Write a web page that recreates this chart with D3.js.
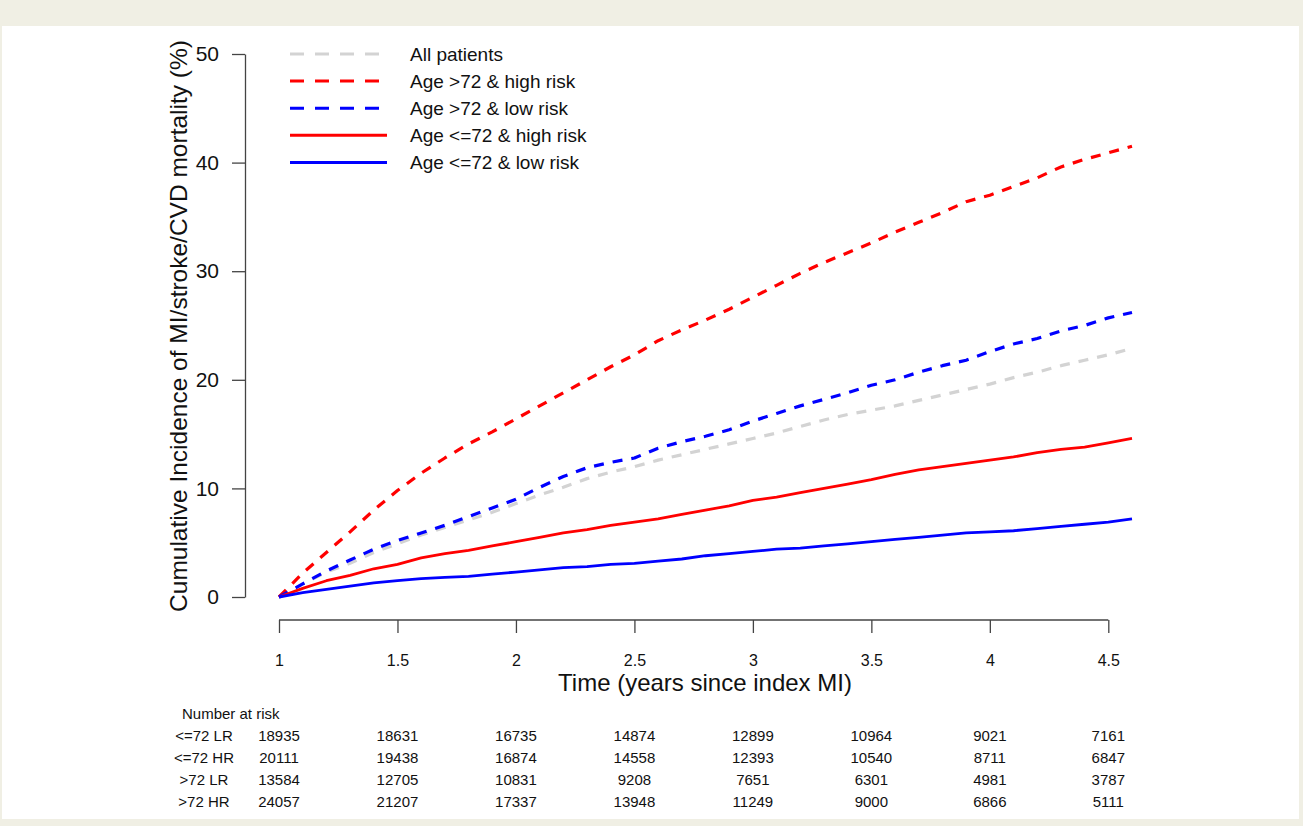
<!DOCTYPE html>
<html>
<head>
<meta charset="utf-8">
<script src="https://cdn.jsdelivr.net/npm/d3@7"></script>
<style>
  html, body { margin: 0; padding: 0; background: #f0efe4; }
  svg { display: block; }
  text { font-family: "Liberation Sans", Arial, sans-serif; fill: #111; }
</style>
</head>
<body>
<svg id="chart" width="1303" height="826"></svg>
<script>
// ---------- data ----------
const times = [1.0,1.1,1.2,1.3,1.4,1.5,1.6,1.7,1.8,1.9,2.0,2.1,2.2,2.3,2.4,2.5,2.6,2.7,2.8,2.9,3.0,3.1,3.2,3.3,3.4,3.5,3.6,3.7,3.8,3.9,4.0,4.1,4.2,4.3,4.4,4.5,4.6];

const allPatients   = [0,1.2,2.3,3.1,4.1,4.9,5.7,6.4,7.1,7.8,8.6,9.4,10.1,10.9,11.5,12.0,12.6,13.1,13.6,14.1,14.6,15.1,15.7,16.3,16.8,17.2,17.6,18.1,18.6,19.1,19.6,20.2,20.7,21.3,21.8,22.3,22.9];
const oldHighRisk   = [0,2.2,4.1,6.0,8.0,9.8,11.4,12.8,14.1,15.2,16.4,17.6,18.8,20.0,21.2,22.3,23.6,24.6,25.5,26.5,27.6,28.7,29.8,30.8,31.7,32.6,33.6,34.5,35.4,36.4,37.0,37.8,38.6,39.6,40.3,40.9,41.5];
const oldLowRisk    = [0,1.2,2.4,3.4,4.4,5.2,5.9,6.6,7.4,8.2,9.0,10.1,11.1,11.9,12.4,12.8,13.7,14.3,14.8,15.4,16.2,16.9,17.6,18.2,18.8,19.5,20.0,20.7,21.3,21.8,22.6,23.3,23.8,24.5,25.0,25.7,26.2];
const youngHighRisk = [0,0.8,1.5,2.0,2.6,3.0,3.6,4.0,4.3,4.7,5.1,5.5,5.9,6.2,6.6,6.9,7.2,7.6,8.0,8.4,8.9,9.2,9.6,10.0,10.4,10.8,11.3,11.7,12.0,12.3,12.6,12.9,13.3,13.6,13.8,14.2,14.6];
const youngLowRisk  = [0,0.4,0.7,1.0,1.3,1.5,1.7,1.8,1.9,2.1,2.3,2.5,2.7,2.8,3.0,3.1,3.3,3.5,3.8,4.0,4.2,4.4,4.5,4.7,4.9,5.1,5.3,5.5,5.7,5.9,6.0,6.1,6.3,6.5,6.7,6.9,7.2];

const seriesNames  = ["All patients","Age >72 & high risk","Age >72 & low risk","Age <=72 & high risk","Age <=72 & low risk"];
const seriesValues = [allPatients, oldHighRisk, oldLowRisk, youngHighRisk, youngLowRisk];
const seriesColors = ["#d3d3d3","#ff0000","#0000ff","#ff0000","#0000ff"];
const seriesDashed = [true, true, true, false, false];

const xTicks = [1,1.5,2,2.5,3,3.5,4,4.5];
const yTicks = [0,10,20,30,40,50];

const riskTimes  = [1,1.5,2,2.5,3,3.5,4,4.5];
const riskLabels = ["<=72 LR","<=72 HR",">72 LR",">72 HR"];
const riskLR72   = [18935,18631,16735,14874,12899,10964,9021,7161];
const riskHR72   = [20111,19438,16874,14558,12393,10540,8711,6847];
const riskLRold  = [13584,12705,10831,9208,7651,6301,4981,3787];
const riskHRold  = [24057,21207,17337,13948,11249,9000,6866,5111];
const riskRows   = [riskLR72, riskHR72, riskLRold, riskHRold];

// ---------- drawing ----------
const svg = d3.select("#chart");

svg.append("rect").attr("x",2).attr("y",26).attr("width",1297).attr("height",793).attr("fill","#ffffff");

const x = d3.scaleLinear().domain([1, 4.6]).range([279, 1132]);
const y = d3.scaleLinear().domain([0, 50]).range([597, 54]);

const axisColor = "#444";

// Y axis
const gy = svg.append("g").attr("transform","translate(245,0)")
  .call(d3.axisLeft(y).tickValues(yTicks).tickFormat(d3.format("d")).tickSize(13).tickSizeOuter(0).tickPadding(13));
gy.selectAll("path, line").attr("stroke", axisColor).attr("stroke-width",1.3);
gy.selectAll("text").attr("font-size","21px").attr("font-family","Liberation Sans, Arial, sans-serif").attr("fill","#111");

// X axis (R style: line spans first to last tick)
const gx = svg.append("g").attr("transform","translate(0,620)")
  .call(d3.axisBottom(x).tickValues(xTicks).tickFormat(d3.format("")).tickSize(13).tickSizeOuter(0).tickPadding(22));
gx.select(".domain").remove();
gx.append("line").attr("x1", x(xTicks[0])).attr("x2", x(xTicks[xTicks.length-1]))
  .attr("y1",0).attr("y2",0).attr("stroke",axisColor).attr("stroke-width",1.3);
gx.selectAll("line").attr("stroke", axisColor).attr("stroke-width",1.3);
gx.selectAll("text").attr("font-size","16px").attr("font-family","Liberation Sans, Arial, sans-serif").attr("fill","#111");

// Axis titles
svg.append("text")
  .attr("transform","translate(187,326) rotate(-90)")
  .attr("text-anchor","middle")
  .attr("font-size","24.5px")
  .text("Cumulative Incidence of MI/stroke/CVD mortality (%)");

svg.append("text")
  .attr("x",705).attr("y",691)
  .attr("text-anchor","middle")
  .attr("font-size","24px")
  .text("Time (years since index MI)");

// Curves
const line = d3.line().x((d,i) => x(times[i])).y(d => y(d));
seriesValues.forEach((vals, k) => {
  svg.append("path")
    .datum(vals)
    .attr("d", line)
    .attr("fill","none")
    .attr("stroke", seriesColors[k])
    .attr("stroke-width", seriesDashed[k] ? 3.2 : 2.8)
    .attr("stroke-dasharray", seriesDashed[k] ? "10,9" : null)
    .attr("stroke-linejoin","round");
});

// Legend
const legend = svg.append("g");
seriesNames.forEach((name, k) => {
  const ly = 54 + k * 27.1;
  legend.append("line")
    .attr("x1",290).attr("x2",387).attr("y1",ly).attr("y2",ly)
    .attr("stroke", seriesColors[k])
    .attr("stroke-width", 3)
    .attr("stroke-dasharray", seriesDashed[k] ? "14,11" : null);
  legend.append("text")
    .attr("x",410).attr("y",ly).attr("dy","0.36em")
    .attr("font-size","19px")
    .text(name);
});

// Number at risk table
svg.append("text").attr("x",182).attr("y",719).attr("font-size","15px").text("Number at risk");
riskRows.forEach((row, r) => {
  const ry = 741 + r * 22;
  svg.append("text").attr("x",204).attr("y",ry).attr("text-anchor","middle").attr("font-size","15px").text(riskLabels[r]);
  row.forEach((n, j) => {
    svg.append("text").attr("x", x(riskTimes[j])).attr("y", ry)
      .attr("text-anchor","middle").attr("font-size","15px").text(n);
  });
});
</script>
</body>
</html>
